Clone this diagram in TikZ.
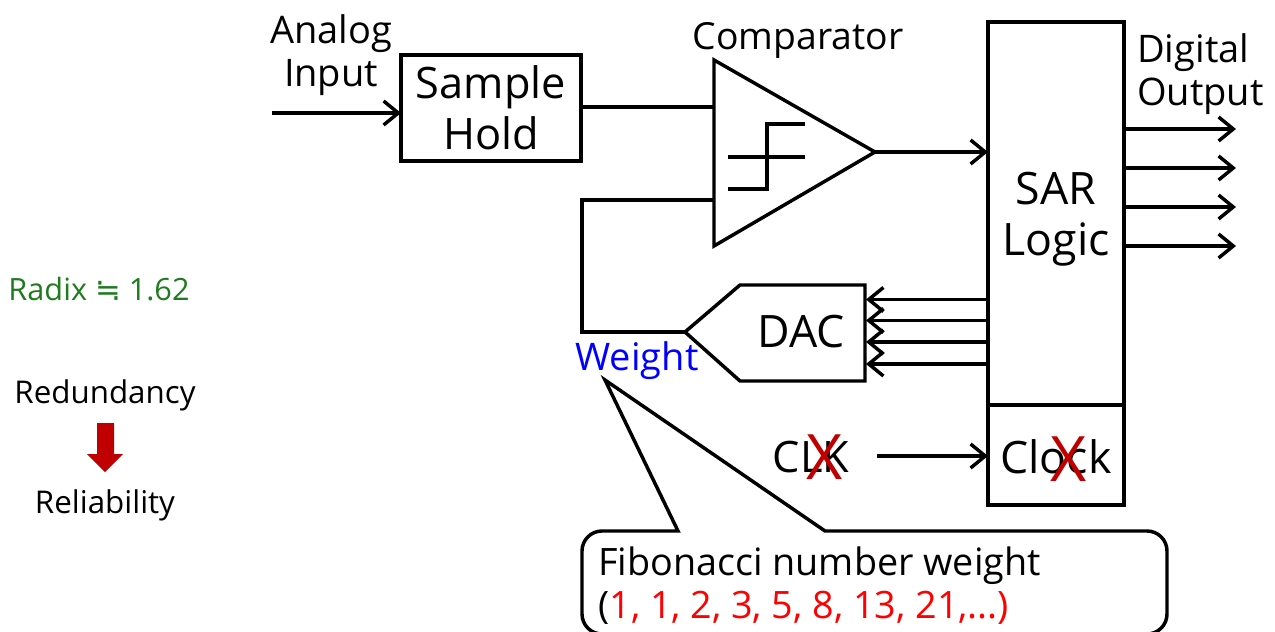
\documentclass[tikz,border=0pt]{standalone}
\usepackage{fontspec}
\setmainfont{Open Sans}
\newfontfamily\symfont{DejaVu Sans}
\usetikzlibrary{arrows.meta}
\definecolor{darkred}{HTML}{C00000}
\definecolor{radixgreen}{HTML}{1E7B1E}
\tikzset{
  wire/.style={line width=2.6pt,line join=miter,black},
  flow/.style={wire,-{Straight Barb[length=11pt,width=18pt,line width=2.6pt]}},
  block/.style={draw,line width=2.6pt,inner sep=0pt,outer sep=0pt,fill=white},
  big/.style={font=\fontsize{33.5pt}{38pt}\selectfont,align=center,inner sep=0pt},
  mid/.style={font=\fontsize{28.5pt}{32.5pt}\selectfont,inner sep=0pt},
  side/.style={font=\fontsize{23.5pt}{27pt}\selectfont,inner sep=0pt},
  cross/.style={font=\fontsize{47pt}{47pt}\selectfont,text=darkred,inner sep=0pt}
}
\begin{document}
\begin{tikzpicture}[x=0.75pt,y=-0.75pt]
\useasboundingbox (0,0) rectangle (1275,632);
\clip (0,0) rectangle (1275,632);
% labels left
\node[side,font=\fontsize{23pt}{27pt}\selectfont,text=radixgreen] (radix) at (99,289) {Radix {\symfont≒} 1.62};
\node[side] (redund) at (105,395) {Redundancy};
\node[side] (reliab) at (105,505) {Reliability};
\fill[darkred] (97,423) -- (114,423) -- (114,454) -- (123,454) -- (105,472) -- (87,454) -- (97,454) -- cycle;
% top labels
\node[mid,align=center] (analog) at (331,55) {Analog\\Input};
\node[mid,font=\fontsize{28pt}{32pt}\selectfont] (compl) at (798,40) {Comparator};
\node[mid,align=left,anchor=west] (digital) at (1137,74) {Digital\\Output};
% coordinates
\coordinate (ain) at (272,113);
\coordinate (ct) at (714,60);
\coordinate (cb) at (714,246);
\coordinate (cout) at (875,152);
\coordinate (cin1) at (714,107);
\coordinate (cin2) at (714,200);
\coordinate (fbk) at (582,200);
\coordinate (fbk2) at (582,332);
\coordinate (dtip) at (685,332);
% blocks
\node[block,big,font=\fontsize{32.5pt}{38pt}\selectfont,minimum width=180pt*0.75,minimum height=106pt*0.75] (sh) at (491,108) {Sample\\Hold};
\node[block,minimum width=136pt*0.75,minimum height=383pt*0.75,anchor=north west] (sar) at (988,22) {};
\node[big] (sart) at (1056,219) {SAR\\Logic};
\node[block,minimum width=136pt*0.75,minimum height=100pt*0.75,anchor=north west] (clkb) at (988,405) {};
\node[big] (clockt) at (1056,457) {Clock};
\node[big,font=\fontsize{32.5pt}{36pt}\selectfont] (clk) at (811,457) {CLK};
\node[cross] (x1) at (825,457) {X};
\node[cross] (x2) at (1069,459) {X};
% comparator
\draw[wire,fill=white] (ct) -- (cout) -- (cb) -- cycle;
\draw[wire] (728,157) -- (805,157);
\draw[wire] (728,189) -- (767,189) -- (767,124) -- (805,124);
% DAC
\draw[wire,fill=white] (dtip) -- (740,285) -- (865,285) -- (865,381) -- (740,381) -- cycle;
\node[big] (dac) at (801,332) {DAC};
% wires
\draw[flow] (ain) -- (sh.west |- ain);
\draw[wire] (sh.east |- cin1) -- (cin1);
\draw[wire] (cin2) -- (fbk) -- (fbk2) -- (dtip);
\draw[flow] (cout) -- (sar.west |- cout);
\foreach \y in {299.5,320.5,342,364} \draw[flow] (sar.west |- 0,\y) -- (866,\y);
\foreach \y in {129,168,207,246} \draw[flow] (sar.east |- 0,\y) -- (1236,\y);
\draw[flow] (877,456) -- (clkb.west |- 0,456);
% weight
\node[mid,text=blue] (weight) at (637,361) {Weight};
% callout
\draw[wire,fill=white]
  (678,531) -- (605,380) -- (825,531)
  [rounded corners=15pt] -- (1167,531) -- (1167,634) -- (582,634) -- (582,531)
  [sharp corners] -- cycle;
\node[mid,font=\fontsize{28.3pt}{33pt}\selectfont,anchor=base west] (fib) at (598,575) {Fibonacci number weight};
\node[mid,font=\fontsize{28.3pt}{33pt}\selectfont,anchor=base west] (seq) at (598,618) {(\textcolor{red}{1, 1, 2, 3, 5, 8, 13, 21,...)}};
\end{tikzpicture}
\end{document}
